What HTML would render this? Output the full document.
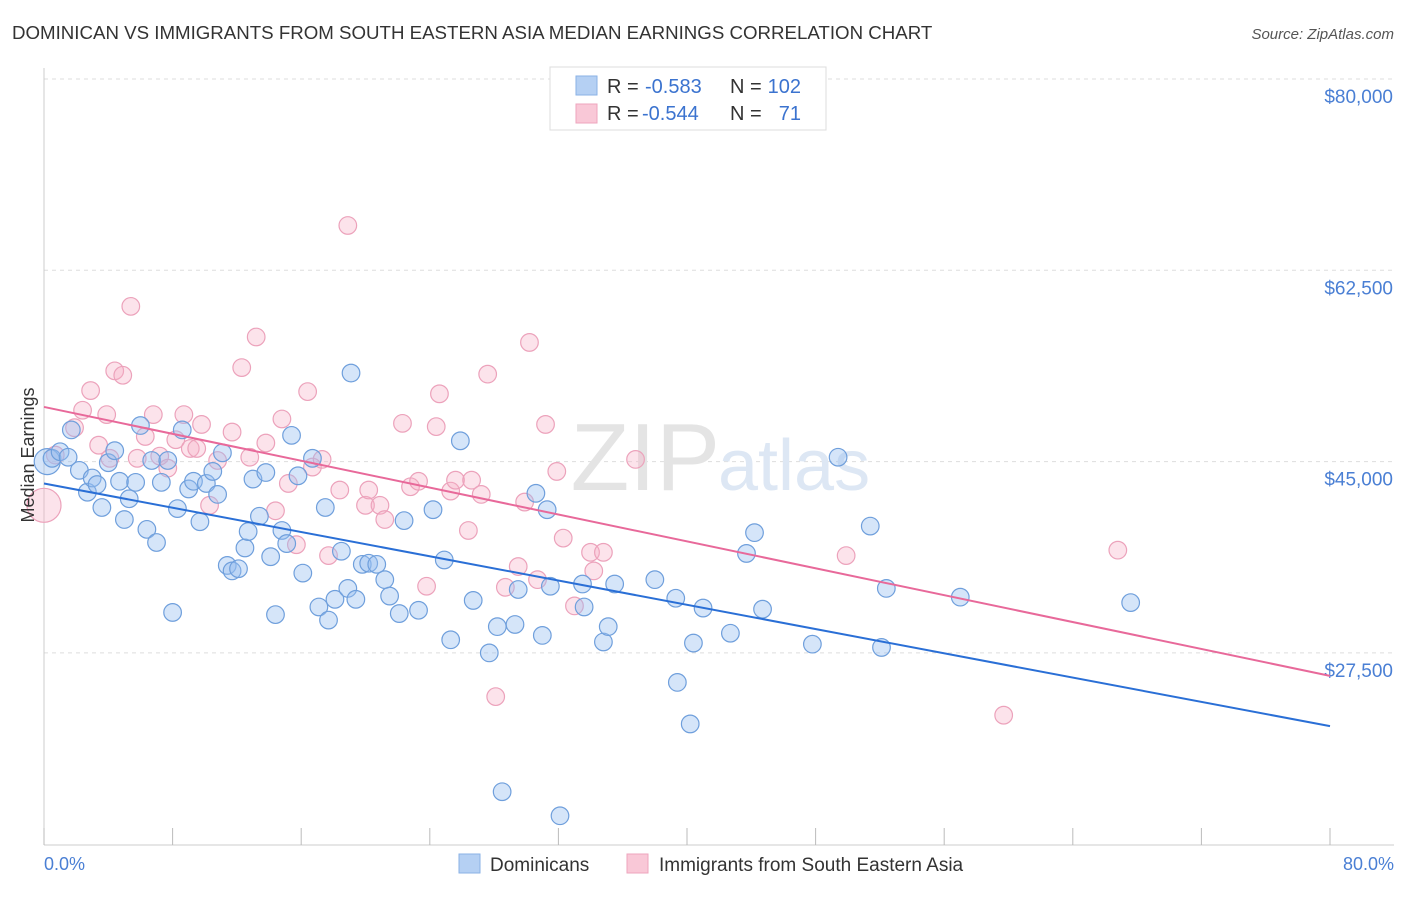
<!DOCTYPE html>
<html><head><meta charset="utf-8"><style>
body{margin:0;background:#fff;font-family:"Liberation Sans",sans-serif;}
svg text{font-family:"Liberation Sans",sans-serif;}
</style></head><body>
<svg id="chart" width="1406" height="892">
<text x="12" y="39" font-size="18.7" fill="#333">DOMINICAN VS IMMIGRANTS FROM SOUTH EASTERN ASIA MEDIAN EARNINGS CORRELATION CHART</text>
<text x="1394" y="39" font-size="15" fill="#555" font-style="italic" text-anchor="end">Source: ZipAtlas.com</text>
<g id="grid"></g>
<text x="720" y="490" font-size="96" fill="#e4e4e4" text-anchor="end" font-family="Liberation Serif">ZIP</text>
<text x="718" y="490" font-size="72" fill="#dde7f4">atlas</text>
<g id="pts"></g>
<g id="lines"></g>
<text x="34" y="455" font-size="18" fill="#333" text-anchor="middle" transform="rotate(-90 34 455)">Median Earnings</text>
<text x="44" y="870" font-size="18" fill="#4a7fd4">0.0%</text>
<text x="1394" y="870" font-size="18" fill="#4a7fd4" text-anchor="end">80.0%</text>
<g>
<rect x="550" y="67" width="276" height="63" fill="#fff" stroke="#ddd"/>
<rect x="576" y="76" width="21" height="19" fill="#b5d0f3" stroke="#8ab2e6"/>
<rect x="576" y="104" width="21" height="19" fill="#f9c8d7" stroke="#eea5bd"/>
<text x="607" y="93" font-size="20" fill="#333">R = </text><text x="645" y="93" font-size="20" fill="#3b73cf">-0.583</text>
<text x="730" y="93" font-size="20" fill="#333">N = </text><text x="801" y="93" font-size="20" fill="#3b73cf" text-anchor="end">102</text>
<text x="607" y="120" font-size="20" fill="#333">R = </text><text x="642" y="120" font-size="20" fill="#3b73cf">-0.544</text>
<text x="730" y="120" font-size="20" fill="#333">N = </text><text x="801" y="120" font-size="20" fill="#3b73cf" text-anchor="end">71</text>
</g>
<g>
<rect x="459" y="854" width="21" height="19" fill="#b5d0f3" stroke="#8ab2e6"/>
<text x="490" y="871" font-size="19" fill="#333">Dominicans</text>
<rect x="627" y="854" width="21" height="19" fill="#f9c8d7" stroke="#eea5bd"/>
<text x="659" y="871" font-size="19" fill="#333">Immigrants from South Eastern Asia</text>
</g>
</svg>
<script>
const yTicks=[80000,62500,45000,27500];
const yTickLabels=["$80,000","$62,500","$45,000","$27,500"];
const xTicks=[0,8,16,24,32,40,48,56,64,72,80];
const blueX=[0.2,0.5,1.0,1.5,1.7,2.2,2.7,3.0,3.3,3.6,4.0,4.4,4.7,5.0,5.3,5.7,6.0,6.4,6.7,7.0,7.3,7.7,8.0,8.3,8.6,9.0,9.3,9.7,10.1,10.5,10.8,11.1,11.4,11.7,12.1,12.5,12.7,13.0,13.4,13.8,14.1,14.4,14.8,15.1,15.4,15.8,16.1,16.7,17.1,17.5,17.7,18.1,18.5,18.9,19.1,19.4,19.8,20.2,20.7,21.2,21.5,22.1,22.4,23.3,24.2,24.9,25.3,25.9,26.7,27.7,28.2,28.5,29.3,29.5,30.6,31.0,31.3,31.5,32.1,33.5,33.6,34.8,35.1,35.5,38.0,39.3,39.4,40.2,40.4,41.0,42.7,43.7,44.2,44.7,47.8,49.4,51.4,52.1,52.4,57.0,67.6];
const blueY=[45000,45300,45900,45400,47900,44200,42200,43500,42900,40800,44900,46000,43200,39700,41600,43100,48300,38800,45100,37600,43100,45100,31200,40700,47900,42500,43200,39500,43000,44100,42000,45800,35500,35000,35200,37100,38600,43400,40000,44000,36300,31000,38700,37500,47400,43700,34800,45300,31700,40800,30500,32400,36800,33400,53100,32400,35600,35700,35600,34200,32700,31100,39600,31400,40600,36000,28700,46900,32300,27500,29900,14800,30100,33300,42100,29100,40600,33600,12600,33800,31700,28500,29900,33800,34200,32500,24800,21000,28400,31600,29300,36600,38500,31500,28300,45400,39100,28000,33400,32600,32100];
const pinkX=[0.0,0.7,1.9,2.4,2.9,3.4,3.9,4.1,4.4,4.9,5.4,5.8,6.3,6.8,7.2,7.7,8.2,8.7,9.1,9.5,9.8,10.3,10.8,11.7,12.3,12.8,13.2,13.8,14.4,14.8,15.2,15.7,16.4,16.7,17.3,17.7,18.4,18.9,20.0,20.2,20.9,21.2,22.3,22.8,23.3,23.8,24.4,24.6,25.3,25.6,26.4,26.6,27.2,27.6,28.1,28.7,29.5,29.9,30.2,30.7,31.2,31.9,32.3,33.0,34.0,34.2,34.8,36.8,49.9,59.7,66.8];
const pinkY=[41000,45600,48100,49700,51500,46500,49300,45300,53300,52900,59200,45300,47300,49300,45500,44400,47000,49300,46200,46200,48400,41000,45100,47700,53600,45400,56400,46700,40500,48900,43000,37400,51400,44500,45200,36400,42400,66600,41000,42400,41000,39700,48500,42700,43200,33600,48200,51200,42300,43300,38700,43300,42000,53000,23500,33500,35400,41300,55900,34200,48400,44100,38000,31800,36700,35000,36700,45200,36400,21800,36900];
const blueTrend=[43000,20800];
const pinkTrend=[50000,25400];
const NS="http://www.w3.org/2000/svg";
const X=p=>44+p*16.075;
const Y=v=>79+(80000-v)/91.48;
function mk(t,a,parent){const e=document.createElementNS(NS,t);for(const k in a)e.setAttribute(k,a[k]);parent.appendChild(e);return e;}
const grid=document.getElementById('grid');
yTicks.forEach((v,i)=>{
  const l=mk('line',{x1:44,x2:1394,y1:Y(v),y2:Y(v),stroke:'#ddd','stroke-dasharray':'4,4'},grid);
  
  
  const t=mk('text',{x:1393,y:Y(v)+24,'font-size':19,fill:'#4a7fd4','text-anchor':'end'},grid);
  t.textContent=yTickLabels[i];
  
  
});
const ax=mk('line',{x1:44,x2:1394,y1:845,y2:845,stroke:'#ccc'},grid);


const ay=mk('line',{x1:44,x2:44,y1:68,y2:845,stroke:'#ccc'},grid);


xTicks.forEach(p=>{
  const t=mk('line',{x1:X(p),x2:X(p),y1:828,y2:845,stroke:'#bbb'},grid);
  
  
});
const pts=document.getElementById('pts');
function dots(xs,ys,fill,stroke,name,bigR){
  xs.forEach((p,i)=>{
    const c=mk('circle',{cx:X(p),cy:Y(ys[i]),r:i===0?bigR:8.8,fill:fill,stroke:stroke,'stroke-width':1.2},pts);
    
    
  });
}
dots(pinkX,pinkY,'rgba(246,176,198,0.35)','#eca2bb','sea-point',17);
dots(blueX,blueY,'rgba(150,190,240,0.4)','#6f9fdc','dominican-point',13);
const lines=document.getElementById('lines');
const bl=mk('line',{x1:X(0),y1:Y(blueTrend[0]),x2:X(80),y2:Y(blueTrend[1]),stroke:'#2a6fd6','stroke-width':2},lines);


const pl=mk('line',{x1:X(0),y1:Y(pinkTrend[0]),x2:X(80),y2:Y(pinkTrend[1]),stroke:'#e8699a','stroke-width':2},lines);


</script>
</body></html>
